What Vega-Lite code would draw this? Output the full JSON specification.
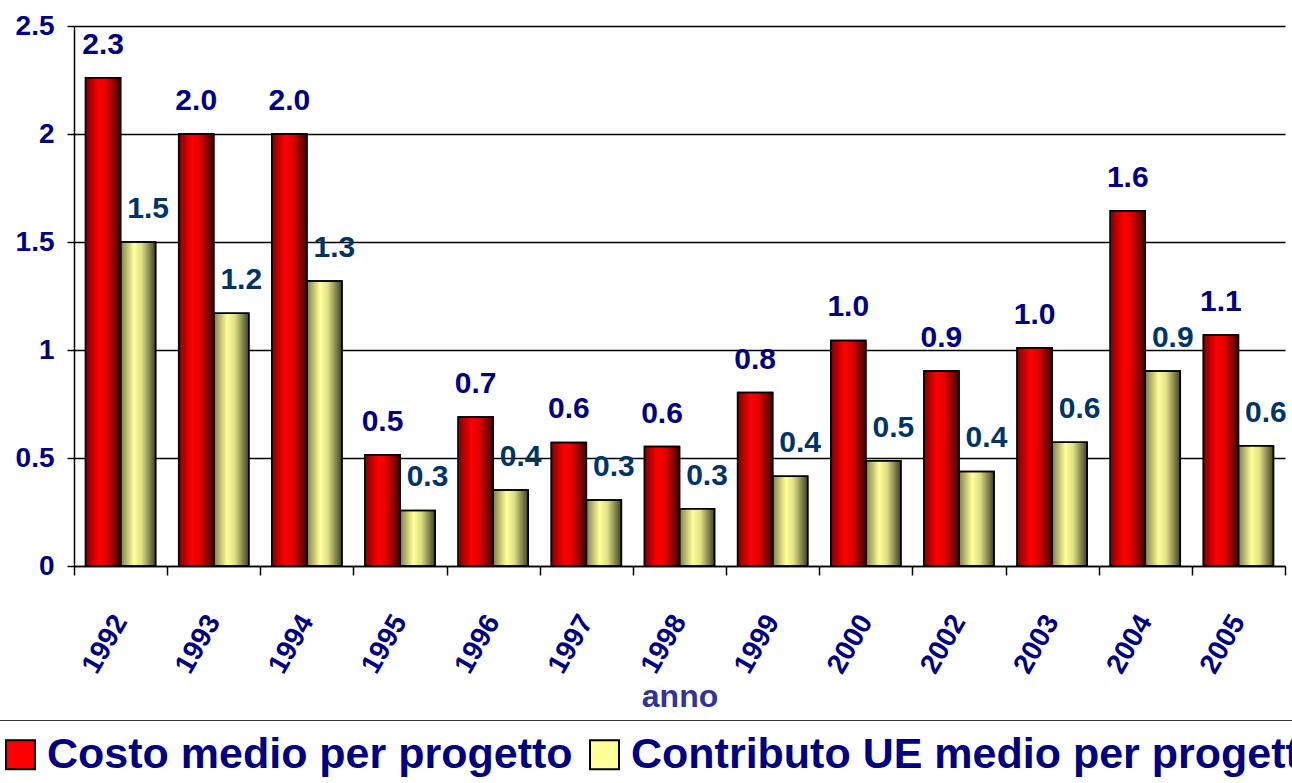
{
  "$schema": "https://vega.github.io/schema/vega-lite/v6.json",
  "width": 1211,
  "height": 540,
  "autosize": {"type": "none"},
  "padding": {"left": 74, "top": 26, "right": 7, "bottom": 217},
  "background": "white",
  "config": {"view": {"stroke": null}, "font": "Liberation Sans"},
  "data": {
    "values": [
      {"anno": "1992", "serie": "Costo medio per progetto", "valore": 2.26},
      {"anno": "1992", "serie": "Contributo UE medio per progetto", "valore": 1.5},
      {"anno": "1993", "serie": "Costo medio per progetto", "valore": 2.0},
      {"anno": "1993", "serie": "Contributo UE medio per progetto", "valore": 1.17},
      {"anno": "1994", "serie": "Costo medio per progetto", "valore": 2.0},
      {"anno": "1994", "serie": "Contributo UE medio per progetto", "valore": 1.32},
      {"anno": "1995", "serie": "Costo medio per progetto", "valore": 0.515},
      {"anno": "1995", "serie": "Contributo UE medio per progetto", "valore": 0.257},
      {"anno": "1996", "serie": "Costo medio per progetto", "valore": 0.69},
      {"anno": "1996", "serie": "Contributo UE medio per progetto", "valore": 0.352},
      {"anno": "1997", "serie": "Costo medio per progetto", "valore": 0.572},
      {"anno": "1997", "serie": "Contributo UE medio per progetto", "valore": 0.305},
      {"anno": "1998", "serie": "Costo medio per progetto", "valore": 0.553},
      {"anno": "1998", "serie": "Contributo UE medio per progetto", "valore": 0.265},
      {"anno": "1999", "serie": "Costo medio per progetto", "valore": 0.803},
      {"anno": "1999", "serie": "Contributo UE medio per progetto", "valore": 0.416},
      {"anno": "2000", "serie": "Costo medio per progetto", "valore": 1.044},
      {"anno": "2000", "serie": "Contributo UE medio per progetto", "valore": 0.487},
      {"anno": "2002", "serie": "Costo medio per progetto", "valore": 0.903},
      {"anno": "2002", "serie": "Contributo UE medio per progetto", "valore": 0.438},
      {"anno": "2003", "serie": "Costo medio per progetto", "valore": 1.01},
      {"anno": "2003", "serie": "Contributo UE medio per progetto", "valore": 0.573},
      {"anno": "2004", "serie": "Costo medio per progetto", "valore": 1.645},
      {"anno": "2004", "serie": "Contributo UE medio per progetto", "valore": 0.903},
      {"anno": "2005", "serie": "Costo medio per progetto", "valore": 1.069},
      {"anno": "2005", "serie": "Contributo UE medio per progetto", "valore": 0.557}
    ]
  },
  "encoding": {
    "x": {
      "field": "anno",
      "type": "nominal",
      "sort": null,
      "scale": {"paddingInner": 0, "paddingOuter": 0},
      "axis": {
        "title": "anno",
        "titleFontSize": 32,
        "titleFontWeight": "bold",
        "titleColor": "#333399",
        "titlePadding": 4,
        "labelAngle": -60,
        "labelAlign": "right",
        "labelBaseline": "middle",
        "labelFontSize": 28,
        "labelFontWeight": "bold",
        "labelColor": "#000080",
        "labelPadding": 42,
        "tickBand": "extent",
        "tickSize": 9,
        "tickColor": "#000",
        "tickWidth": 1.5,
        "domainColor": "#000",
        "domainWidth": 1.5,
        "grid": false
      }
    },
    "xOffset": {
      "field": "serie",
      "type": "nominal",
      "sort": ["Costo medio per progetto", "Contributo UE medio per progetto"],
      "scale": {"domain": ["Costo medio per progetto", "Contributo UE medio per progetto"], "paddingInner": 0, "paddingOuter": 0.33}
    },
    "y": {
      "field": "valore",
      "type": "quantitative",
      "scale": {"domain": [0, 2.5], "nice": false},
      "axis": {
        "title": null,
        "values": [0, 0.5, 1, 1.5, 2, 2.5],
        "format": "~g",
        "labelFontSize": 28,
        "labelFontWeight": "bold",
        "labelColor": "#000080",
        "labelPadding": 13,
        "tickSize": 7,
        "tickColor": "#000",
        "tickWidth": 1.5,
        "domainColor": "#000",
        "domainWidth": 1.5,
        "grid": true,
        "gridColor": "#000",
        "gridWidth": 1.5
      }
    }
  },
  "layer": [
    {
      "mark": {"type": "bar", "stroke": "#000", "strokeWidth": 1.5},
      "encoding": {
        "fill": {
          "field": "serie",
          "type": "nominal",
          "sort": ["Costo medio per progetto", "Contributo UE medio per progetto"],
          "scale": {"domain": ["Costo medio per progetto", "Contributo UE medio per progetto"], "range": ["#FF0000", "#FFFF99"]},
          "legend": {
            "orient": "none",
            "legendX": -88,
            "legendY": 694,
            "direction": "horizontal",
            "title": null,
            "symbolType": "square",
            "symbolSize": 840,
            "symbolStrokeColor": "#000",
            "symbolStrokeWidth": 2,
            "labelFontSize": 43,
            "labelFontWeight": "bold",
            "labelColor": "#000080",
            "labelOffset": 5,
            "labelLimit": 2000,
            "columnPadding": 10,
            "padding": 13,
            "strokeColor": "#333"
          }
        }
      }
    },
    {
      "mark": {
        "type": "bar",
        "stroke": "#000",
        "strokeWidth": 1.5,
        "fill": {
          "gradient": "linear",
          "x1": 0, "x2": 1, "y1": 0, "y2": 0,
          "stops": [
            {"offset": 0, "color": "rgba(0,0,0,0.5)"},
            {"offset": 0.38, "color": "rgba(0,0,0,0)"},
            {"offset": 0.6, "color": "rgba(0,0,0,0.12)"},
            {"offset": 1, "color": "rgba(0,0,0,0.75)"}
          ]
        }
      }
    },
    {
      "transform": [{"filter": "datum.serie === 'Costo medio per progetto'"}],
      "mark": {"type": "text", "dy": -24, "baseline": "alphabetic", "fontSize": 30, "fontWeight": "bold", "color": "#000080"},
      "encoding": {"text": {"field": "valore", "type": "quantitative", "format": ".1f"}}
    },
    {
      "transform": [{"filter": "datum.serie === 'Contributo UE medio per progetto'"}],
      "mark": {"type": "text", "dy": -24, "dx": 10, "baseline": "alphabetic", "fontSize": 30, "fontWeight": "bold", "color": "#003366"},
      "encoding": {"text": {"field": "valore", "type": "quantitative", "format": ".1f"}}
    }
  ]
}
